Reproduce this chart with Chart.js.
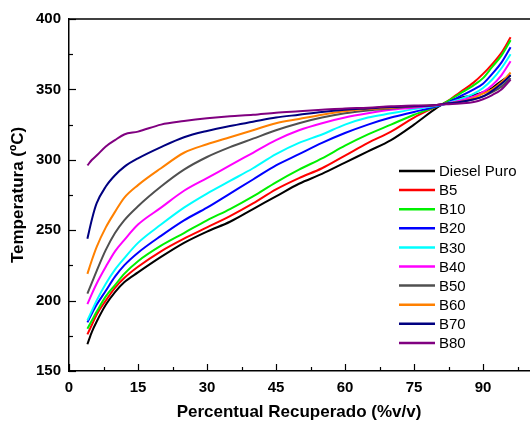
<!DOCTYPE html>
<html>
<head>
<meta charset="utf-8">
<script src="https://cdn.jsdelivr.net/npm/chart.js@4.4.1/dist/chart.umd.min.js"></script>
<style>
  html, body { margin: 0; padding: 0; background: #fff; overflow: hidden; }
  #wrap { width: 530px; height: 424px; }
</style>
</head>
<body>
<div id="wrap"><canvas id="canvas-1"></canvas></div>
<script>
// % v/v recuperado
const recuperado = [4, 5, 6, 8, 10, 12, 15, 20, 25, 30, 35, 40, 45, 50, 55, 60, 65, 70, 75, 80, 82, 85, 88, 90, 92, 94, 96];

const dieselPuro = [169, 178, 185, 197, 206, 213, 220, 231, 241, 249, 256, 265, 274, 283, 290, 298, 306, 314, 325, 337, 341, 344, 346, 348, 351, 356, 360];
const b5  = [176, 183, 190, 200, 209, 216, 224, 235, 244, 252, 260, 269, 279, 287, 294, 303, 312, 320, 330, 338, 341, 348, 355, 361, 368, 376, 387];
const b10 = [180, 186, 192, 203, 211, 219, 228, 239, 248, 257, 265, 274, 284, 293, 301, 310, 318, 325, 332, 338, 341, 347, 353, 358, 366, 374, 385];
const b20 = [184.5, 191, 197, 207, 217, 225, 234, 246, 257, 266, 276, 286, 296, 304, 312, 319, 325, 330, 334, 338, 340, 345, 350, 354, 361, 369, 380];
const b30 = [186, 193, 200, 212, 222, 230, 241, 254, 266, 276, 285, 294, 304, 312, 318, 325, 330, 333, 336, 338.5, 340, 343, 347, 351, 357, 365, 375];
const b40 = [197.5, 205, 212, 224, 235, 243, 254, 266, 278, 287, 296, 305, 314, 321, 326, 330, 333, 335.5, 337, 339, 340, 342, 345, 348, 353, 360, 370];
const b50 = [205, 213, 221, 236, 248, 257, 267, 281, 293, 302, 309, 315, 321, 326, 330, 333, 335, 336.5, 338, 339, 340, 341, 343, 345, 348, 352, 358];
const b60 = [219, 229, 238, 252, 263, 273, 282, 294, 305, 311, 316, 321, 326, 329, 332, 334.5, 336, 337, 338, 339, 340, 341, 344, 347, 350, 355, 362];
const b70 = [244, 258, 269, 281, 289, 295, 301, 309, 316, 320.5, 324, 327, 330, 332, 334, 335.5, 336.5, 337.5, 338, 339, 340, 341, 343, 345, 349, 354, 360];
const b80 = [296, 300, 303, 309.5, 314, 318, 320, 325, 327.5, 329.5, 331, 332, 333.5, 334.5, 335.5, 336.5, 337, 338, 338.5, 339, 339.5, 340, 341, 343, 346, 350, 357];

const nomes = ['Diesel Puro', 'B5', 'B10', 'B20', 'B30', 'B40', 'B50', 'B60', 'B70', 'B80'];
const series = [dieselPuro, b5, b10, b20, b30, b40, b50, b60, b70, b80];
const cores = ['#000000', '#ff0000', '#00f000', '#0000ff', '#00ffff', '#ff00ff', '#505050', '#ff8000', '#000080', '#800080'];

const xTicks = [0, 15, 30, 45, 60, 75, 90];
const yTicks = [150, 200, 250, 300, 350, 400];

const fonte = '"Liberation Sans", Arial, sans-serif';

// ticks para dentro, borda de cima, legenda e titulos dos eixos
const extras = {
  id: 'extras',
  afterDraw(chart) {
    const ctx = chart.ctx;
    const a = chart.chartArea;
    const sx = chart.scales.x, sy = chart.scales.y;
    ctx.save();
    ctx.strokeStyle = '#000';
    ctx.lineWidth = 1.5;
    ctx.beginPath();
    ctx.moveTo(a.left, a.top);
    ctx.lineTo(a.right + 2, a.top);
    ctx.stroke();

    ctx.lineWidth = 1.2;
    sx.ticks.forEach(t => {
      const px = Math.round(sx.getPixelForValue(t.value)) + 0.5;
      const len = xTicks.includes(t.value) ? 7 : 4;
      ctx.beginPath();
      ctx.moveTo(px, a.bottom);
      ctx.lineTo(px, a.bottom - len);
      ctx.stroke();
    });
    sy.ticks.forEach(t => {
      const py = Math.round(sy.getPixelForValue(t.value)) + 0.5;
      const len = yTicks.includes(t.value) ? 7 : 4;
      ctx.beginPath();
      ctx.moveTo(a.left, py);
      ctx.lineTo(a.left + len, py);
      ctx.stroke();
    });

    // legenda
    ctx.font = '15px ' + fonte;
    ctx.textBaseline = 'middle';
    ctx.textAlign = 'left';
    chart.data.datasets.forEach((ds, i) => {
      const y = 171 + i * 19.1;
      ctx.strokeStyle = ds.borderColor;
      ctx.lineWidth = 2.5;
      ctx.beginPath();
      ctx.moveTo(399, y);
      ctx.lineTo(435, y);
      ctx.stroke();
      ctx.fillStyle = '#000';
      ctx.fillText(ds.label, 439, y + 1);
    });

    // titulos
    ctx.font = 'bold 17px ' + fonte;
    ctx.fillStyle = '#000';
    ctx.textAlign = 'center';
    ctx.fillText('Percentual Recuperado (%v/v)', (a.left + a.right) / 2, 412);
    ctx.translate(18, (a.top + a.bottom) / 2);
    ctx.rotate(-Math.PI / 2);
    ctx.fillText('Temperatura (ºC)', 0, 0);
    ctx.restore();
  }
};

new Chart(document.getElementById('canvas-1'), {
  type: 'line',
  data: {
    datasets: series.map((s, i) => ({
      label: nomes[i],
      data: s.map((v, j) => ({ x: recuperado[j], y: v })),
      borderColor: cores[i],
      backgroundColor: cores[i],
      borderWidth: 2,
      pointRadius: 0,
      cubicInterpolationMode: 'monotone',
      fill: false,
      order: series.length - i
    }))
  },
  options: {
    responsive: true,
    maintainAspectRatio: false,
    animation: false,
    layout: { padding: { top: 19, right: 1, left: 0, bottom: 0 } },
    plugins: {
      legend: { display: false },
      tooltip: { enabled: false }
    },
    scales: {
      x: {
        type: 'linear',
        min: 0,
        max: 100,
        afterFit(scale) { scale.height = 53; },
        grid: { display: true, drawOnChartArea: false, drawTicks: false },
        border: { display: true, color: '#000', width: 1.5 },
        ticks: {
          stepSize: 7.5,
          includeBounds: false,
          autoSkip: false,
          maxRotation: 0,
          padding: 8,
          color: '#000',
          font: { family: fonte, size: 15, weight: 'bold' },
          callback: v => xTicks.includes(v) ? String(v) : ''
        }
      },
      y: {
        min: 150,
        max: 400,
        afterFit(scale) { scale.width = 69; },
        grid: { display: true, drawOnChartArea: false, drawTicks: false },
        border: { display: true, color: '#000', width: 1.5 },
        ticks: {
          stepSize: 25,
          autoSkip: false,
          padding: 8,
          color: '#000',
          font: { family: fonte, size: 15, weight: 'bold' },
          callback: v => yTicks.includes(v) ? String(v) : ''
        }
      }
    }
  },
  plugins: [extras]
});
</script>
</body>
</html>
